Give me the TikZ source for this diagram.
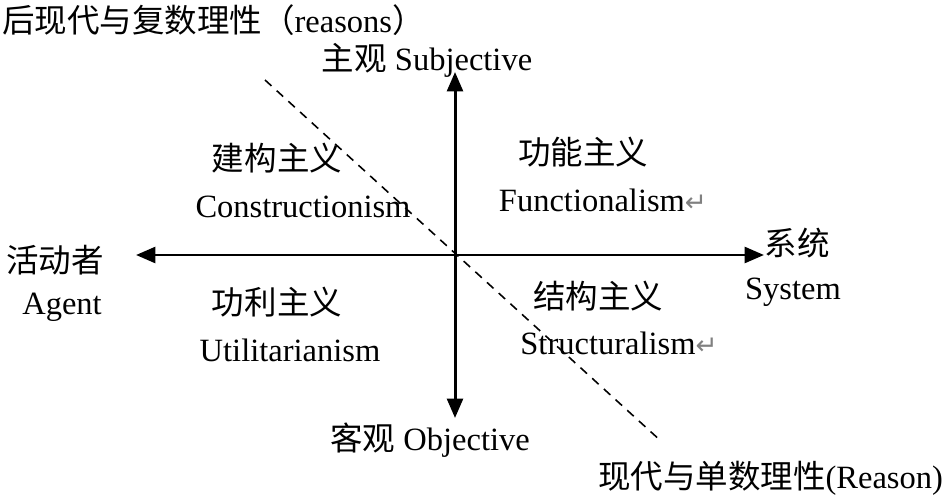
\documentclass[tikz,border=0pt]{standalone}
\usepackage{fontspec}
\setmainfont{Liberation Serif}
\newfontfamily\cjk{Noto Sans CJK SC}
\newfontfamily\symfont{DejaVu Sans}
\usetikzlibrary{arrows.meta}
\newcommand{\parmark}{{\symfont\color{gray}\fontsize{15}{15}\selectfont ↵}}

\begin{document}
\begin{tikzpicture}[x=0.02cm, y=-0.02cm, >={Triangle[length=11pt,width=9pt]},
  every node/.style={inner sep=1pt, font=\fontsize{18.5}{22}\selectfont},
  axis/.style={<->, line width=1.7pt},
  divide/.style={dashed, line width=0.9pt, dash pattern=on 5pt off 4pt}]
\useasboundingbox (0,0) rectangle (945,500);
\coordinate (left) at (136,255); \coordinate (right) at (764,255);
\coordinate (top) at (455,72); \coordinate (bottom) at (455,418);
\coordinate (d1) at (265,80); \coordinate (d2) at (662,442);
\draw[divide] (d1) -- (d2);
\draw[axis] (left) -- (right);
\draw[axis] (bottom) -- (top);
% axis labels
\node (post) [anchor=west] at (0,20) {{\cjk 后现代与复数理性（}reasons{\cjk ）}};
\node (subj) at (427,60) {{\cjk 主观} Subjective};
\node (obj) at (430,440) {{\cjk 客观} Objective};
\node (mod) [anchor=east] at (945,478) {{\cjk 现代与单数理性}(Reason)};
\node (agent) at (55,260) {\cjk 活动者}; \node (agentE) at (62,307) {Agent};
\node (sys) at (797,243) {\cjk 系统}; \node (sysE) at (793,292) {System};
% quadrants
\node (con) at (277,158) {\cjk 建构主义}; \node (conE) at (303,207) {Constructionism};
\node (fun) at (583,152) {\cjk 功能主义}; \node (funE) at (603,200) {Functionalism\parmark};
\node (uti) at (277,302) {\cjk 功利主义}; \node (utiE) at (290,350) {Utilitarianism};
\node (str) at (598,296) {\cjk 结构主义}; \node (strE) at (619,343) {Structuralism\parmark};
\end{tikzpicture}
\end{document}
